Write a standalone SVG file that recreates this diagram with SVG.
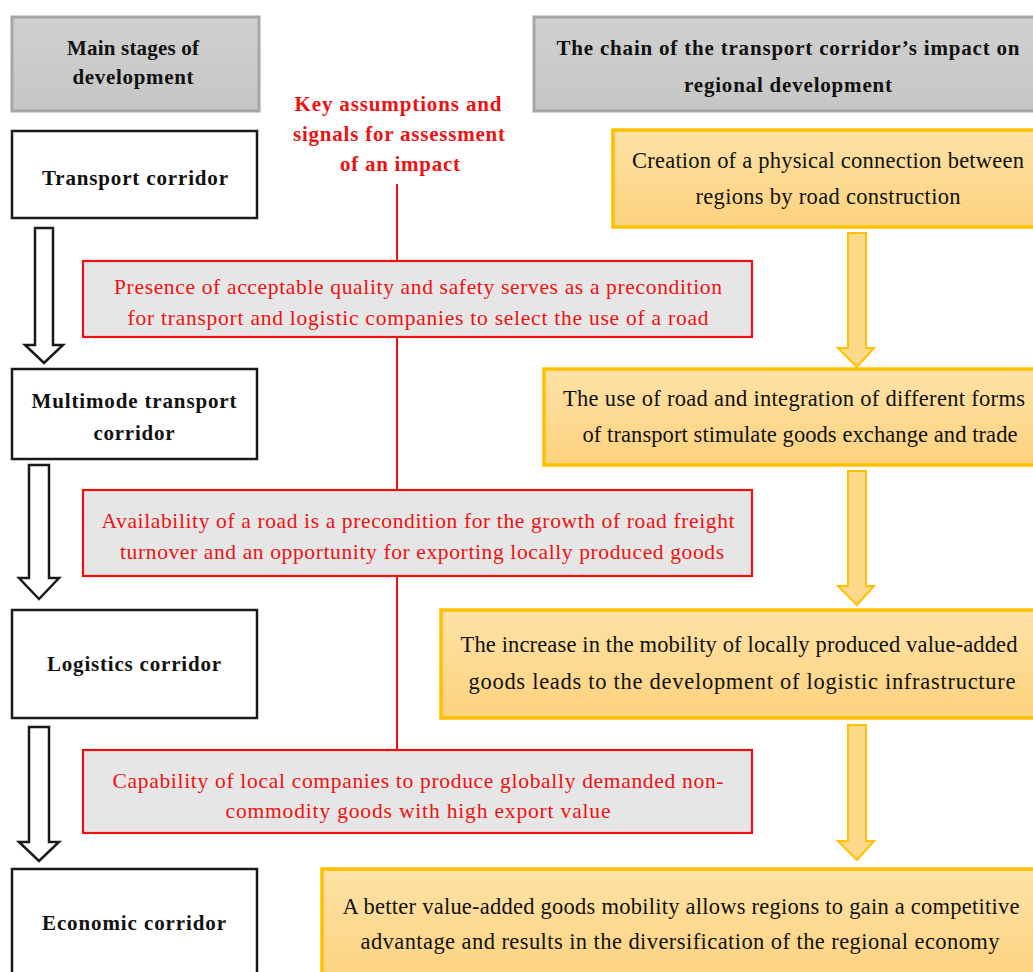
<svg xmlns="http://www.w3.org/2000/svg" width="1033" height="972" viewBox="0 0 1033 972">
<defs>
<linearGradient id="gGray" x1="0" y1="0" x2="0" y2="1">
<stop offset="0" stop-color="#d0d0d0"/><stop offset="1" stop-color="#c6c6c6"/>
</linearGradient>
<linearGradient id="gOr" x1="0" y1="0" x2="0" y2="1">
<stop offset="0" stop-color="#fee2a6"/><stop offset="1" stop-color="#fcd27e"/>
</linearGradient>
<style>
.hdr{fill:url(#gGray);stroke:#a6a6a6;stroke-width:3}
.stage{fill:#fff;stroke:#1a1a1a;stroke-width:2.5}
.sig{fill:#e6e6e6;stroke:#ee1111;stroke-width:2.2}
.chain{fill:url(#gOr);stroke:#ffc000;stroke-width:3.5}
.harr{fill:#fff;stroke:#1a1a1a;stroke-width:2.5;stroke-linejoin:miter}
.oarr{fill:#fdd98c;stroke:#ffc000;stroke-width:2}
.rline{stroke:#ee1111;stroke-width:2;fill:none}
text{font-family:"Liberation Serif","Times New Roman",serif;text-anchor:middle}
.b{font-weight:bold;font-size:21px;fill:#111}
.rb{font-weight:bold;font-size:21px;fill:#ee1111}
.r{font-size:21.5px;fill:#ee1111}
.o{font-size:22.5px;fill:#111}
</style>
</defs>
<g id="connectors">
<line class="rline" x1="397" y1="184" x2="397" y2="750"/>
<path class="harr" d="M35,228 H53 V345 H63 L44,363 L25,345 H35 Z"/>
<path class="harr" d="M29,465 H49 V578 H59 L39,599 L19,578 H29 Z"/>
<path class="harr" d="M29,727 H49 V842 H59 L39,861 L19,842 H29 Z"/>
<path class="oarr" d="M848,233 H866 V348 H874 L857,367 L838,348 H848 Z"/>
<path class="oarr" d="M848,471 H866 V586 H874 L857,605 L838,586 H848 Z"/>
<path class="oarr" d="M848,725 H866 V841 H874 L857,860 L838,841 H848 Z"/>
</g>
<g id="header-stages">
<rect class="hdr" x="12" y="17" width="247" height="94"/>
<text class="b" x="133" y="55" textLength="132">Main stages of</text>
<text class="b" x="133" y="84" textLength="121">development</text>
</g>
<g id="header-chain">
<rect class="hdr" x="534" y="17" width="510" height="94"/>
<text class="b" x="788" y="55" textLength="463">The chain of the transport corridor’s impact on</text>
<text class="b" x="788" y="92" textLength="208">regional development</text>
</g>
<g id="header-signals">
<text class="rb" x="398" y="111" textLength="207">Key assumptions and</text>
<text class="rb" x="399" y="141" textLength="212">signals for assessment</text>
<text class="rb" x="400" y="171" textLength="120">of an impact</text>
</g>
<g id="stage-transport">
<rect class="stage" x="12" y="131" width="245" height="87"/>
<text class="b" x="135" y="185" textLength="186">Transport corridor</text>
</g>
<g id="stage-multimode">
<rect class="stage" x="12" y="369" width="245" height="90"/>
<text class="b" x="134" y="408" textLength="205">Multimode transport</text>
<text class="b" x="134" y="440" textLength="81">corridor</text>
</g>
<g id="stage-logistics">
<rect class="stage" x="12" y="610" width="245" height="108"/>
<text class="b" x="134" y="671" textLength="174">Logistics corridor</text>
</g>
<g id="stage-economic">
<rect class="stage" x="12" y="869" width="245" height="110"/>
<text class="b" x="134" y="930" textLength="184">Economic corridor</text>
</g>
<g id="signal-1">
<rect class="sig" x="83" y="261" width="669" height="76"/>
<text class="r" x="418" y="294" textLength="608">Presence of acceptable quality and safety serves as a precondition</text>
<text class="r" x="418" y="325" textLength="581">for transport and logistic companies to select the use of a road</text>
</g>
<g id="signal-2">
<rect class="sig" x="83" y="490" width="669" height="86"/>
<text class="r" x="418" y="528" textLength="633">Availability of a road is a precondition for the growth of road freight</text>
<text class="r" x="422" y="559" textLength="604">turnover and an opportunity for exporting locally produced goods</text>
</g>
<g id="signal-3">
<rect class="sig" x="83" y="750" width="669" height="83"/>
<text class="r" x="418" y="788" textLength="611">Capability of local companies to produce globally demanded non-</text>
<text class="r" x="418" y="818" textLength="385">commodity goods with high export value</text>
</g>
<g id="chain-1">
<rect class="chain" x="613" y="130" width="430" height="97"/>
<text class="o" x="828" y="168" textLength="392">Creation of a physical connection between</text>
<text class="o" x="828" y="204" textLength="265">regions by road construction</text>
</g>
<g id="chain-2">
<rect class="chain" x="544" y="369" width="499" height="96"/>
<text class="o" x="794" y="406" textLength="462">The use of road and integration of different forms</text>
<text class="o" x="800" y="442" textLength="435">of transport stimulate goods exchange and trade</text>
</g>
<g id="chain-3">
<rect class="chain" x="441" y="610" width="602" height="108"/>
<text class="o" x="739" y="652" textLength="557">The increase in the mobility of locally produced value-added</text>
<text class="o" x="742" y="689" textLength="547">goods leads to the development of logistic infrastructure</text>
</g>
<g id="chain-4">
<rect class="chain" x="322" y="869" width="721" height="115"/>
<text class="o" x="681" y="914" textLength="677">A better value-added goods mobility allows regions to gain a competitive</text>
<text class="o" x="680" y="949" textLength="639">advantage and results in the diversification of the regional economy</text>
</g>
</svg>
